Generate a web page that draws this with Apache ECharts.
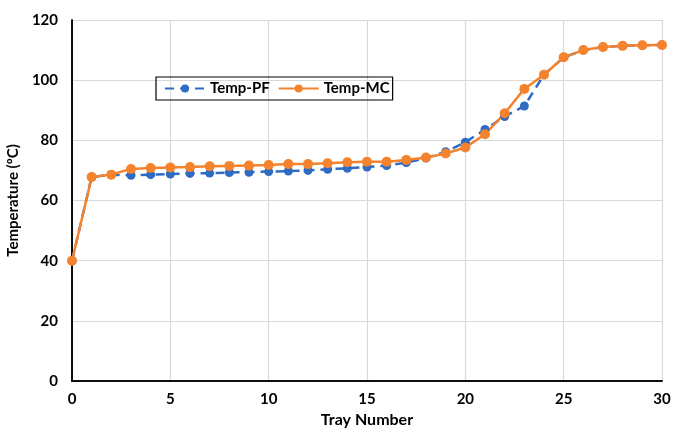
<!DOCTYPE html>
<html><head><meta charset="utf-8">
<script src="https://cdn.jsdelivr.net/npm/echarts@6/dist/echarts.min.js"></script>
<style>html,body{margin:0;padding:0;background:#fff}#c{width:673px;height:429px}</style>
</head><body><div id="c"></div>
<script>
const trays = [0,1,2,3,4,5,6,7,8,9,10,11,12,13,14,15,16,17,18,19,20,21,22,23,24,25,26,27,28,29,30];
const tempPF = [40,67.8,68.6,68.4,68.6,68.8,69.0,69.1,69.3,69.4,69.6,69.8,70.0,70.4,70.7,71.1,71.6,72.6,74.1,76.2,79.4,83.6,87.9,91.4,101.8,107.6,110.0,111.0,111.4,111.6,111.7];
const tempMC = [40,67.8,68.6,70.5,70.8,71.0,71.1,71.4,71.5,71.6,71.8,72.1,72.1,72.4,72.7,72.9,72.9,73.5,74.3,75.6,77.6,82.0,89.0,97.1,101.8,107.6,110.0,111.0,111.4,111.6,111.7];
const xTicks = [0,5,10,15,20,25,30];
const yTicks = [0,20,40,60,80,100,120];
const FONT = 'Lato';
const chart = echarts.init(document.getElementById('c'));
const frameAxis = {show:true, axisLine:{show:true,lineStyle:{color:'#000',width:1.5}}, axisTick:{show:false}, axisLabel:{show:false}, splitLine:{show:false}};
chart.setOption({
  animation:false,
  grid:{left:72,right:11,top:20,bottom:48,containLabel:false,outerBoundsMode:'none'},
  legend:{
    left:156, top:77, orient:'horizontal',
    itemWidth:40, itemHeight:10, itemGap:8,
    borderColor:'#000', borderWidth:1.2, padding:[4,3,4,8],
    textStyle:{fontFamily:FONT,fontWeight:'bold',fontSize:15,color:'#000'},
    data:['Temp-PF','Temp-MC']
  },
  xAxis:[{
    type:'value', min:0, max:30, interval:5,
    name:'Tray Number', nameLocation:'middle', nameGap:28,
    nameTextStyle:{fontFamily:FONT,fontWeight:'bold',fontSize:16,color:'#000'},
    axisLine:{lineStyle:{color:'#000',width:1.5}},
    axisTick:{show:false},
    axisLabel:{fontFamily:FONT,fontWeight:'bold',fontSize:15,color:'#000',margin:11},
    splitLine:{show:true,lineStyle:{color:'#d9d9d9',width:1.2}}
  }, Object.assign({type:'value',position:'top',min:0,max:30,interval:5}, frameAxis)],
  yAxis:[{
    type:'value', min:0, max:120, interval:20,
    name:'Temperature (ºC)', nameLocation:'middle', nameGap:44, nameRotate:90,
    nameTextStyle:{fontFamily:FONT,fontWeight:'bold',fontSize:15,color:'#000'},
    axisLine:{show:true,lineStyle:{color:'#000',width:1.5}},
    axisTick:{show:false},
    axisLabel:{fontFamily:FONT,fontWeight:'bold',fontSize:15,color:'#000',margin:14},
    splitLine:{show:true,lineStyle:{color:'#d9d9d9',width:1.2}}
  }, Object.assign({type:'value',position:'right',min:0,max:120,interval:20}, frameAxis)],
  series:[
    {name:'Temp-PF',type:'line',data:trays.map((t,i)=>[t,tempPF[i]]),
     symbol:'circle',symbolSize:9,
     itemStyle:{color:'#2d6cc2'},
     lineStyle:{color:'#2d6cc2',width:2.5,type:[9,6]}},
    {name:'Temp-MC',type:'line',data:trays.map((t,i)=>[t,tempMC[i]]),
     symbol:'circle',symbolSize:10,
     itemStyle:{color:'#f5822c'},
     lineStyle:{color:'#f5822c',width:2.5}}
  ]
});
</script></body></html>
